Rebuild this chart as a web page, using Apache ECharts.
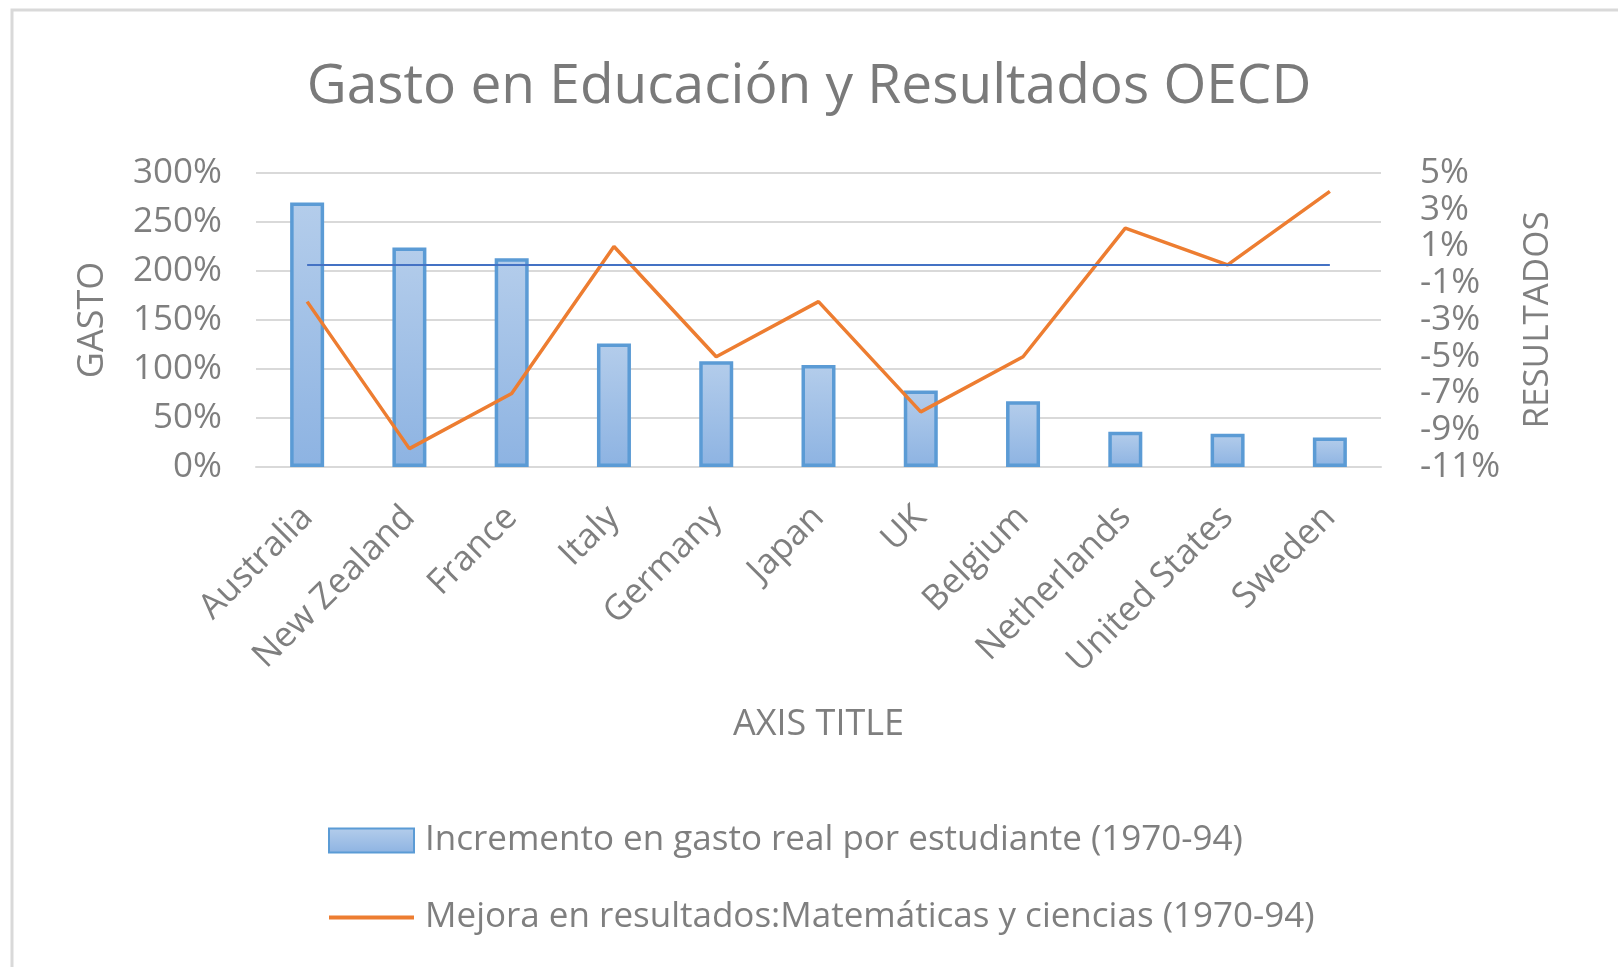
<!DOCTYPE html>
<html>
<head>
<meta charset="utf-8">
<script src="https://cdn.jsdelivr.net/npm/echarts@6/dist/echarts.min.js"></script>
<style>
  html, body { margin: 0; padding: 0; background: #fff; }
  #chart { width: 1618px; height: 967px; }
</style>
</head>
<body>
<div id="chart"></div>
<script>
const categories = ['Australia', 'New Zealand', 'France', 'Italy', 'Germany', 'Japan', 'UK', 'Belgium', 'Netherlands', 'United States', 'Sweden']
// gasto (left axis, %)
const gastoValues = [270, 224, 213, 126, 108, 104, 78, 67, 36, 34, 30]
// resultados (right axis, %)
const resultadosValues = [-2, -10, -7, 1, -5, -2, -8, -5, 2, 0, 4]
const baselineValue = 0

const gastoName = 'Incremento en gasto real por estudiante (1970-94)'
const resultadosName = 'Mejora en resultados:Matemáticas y ciencias (1970-94)'

const font = '"Open Sans", "Noto Sans", sans-serif'
const grey = '#7f7f7f'

const chart = echarts.init(document.getElementById('chart'))

const option = {
  backgroundColor: '#fff',
  textStyle: { fontFamily: font },
  animation: false,
  graphic: [{
    type: 'rect',
    shape: { x: 12, y: 10, width: 1640, height: 1000 },
    style: { fill: 'none', stroke: '#d9d9d9', lineWidth: 3 },
    silent: true
  }],
  title: {
    text: 'Gasto en Educación y Resultados OECD',
    left: 'center',
    top: 55,
    textStyle: { fontFamily: font, fontSize: 55, fontWeight: 'normal', color: '#7a7a7a' }
  },
  legend: {
    orient: 'vertical',
    left: 322,
    top: 818,
    itemWidth: 85,
    itemHeight: 24,
    itemGap: 42,
    textStyle: { fontFamily: font, fontSize: 35, color: grey, padding: [0, 0, 0, 6] },
    data: [
      { name: gastoName, icon: 'rect' },
      { name: resultadosName, itemStyle: { opacity: 0 }, lineStyle: { width: 4 } }
    ]
  },
  grid: { left: 256, right: 237, top: 173, bottom: 500 },
  xAxis: {
    type: 'category',
    data: categories,
    name: 'AXIS TITLE',
    nameLocation: 'middle',
    nameGap: 240,
    nameTextStyle: { fontFamily: font, fontSize: 36, color: grey },
    axisLine: { show: true, lineStyle: { color: '#d9d9d9', width: 2 } },
    axisTick: { show: false },
    axisLabel: { rotate: 45, margin: 45, fontSize: 35, color: grey, interval: 0 }
  },
  yAxis: [{
    type: 'value',
    min: 0,
    max: 300,
    interval: 50,
    name: 'GASTO',
    nameLocation: 'middle',
    nameRotate: 90,
    nameGap: 145,
    nameTextStyle: { fontFamily: font, fontSize: 36, color: grey },
    axisLine: { show: false },
    axisTick: { show: false },
    axisLabel: { formatter: '{value}%', fontSize: 35, color: grey, margin: 34 },
    splitLine: { lineStyle: { color: '#d9d9d9', width: 2 } }
  }, {
    type: 'value',
    min: -11,
    max: 5,
    interval: 2,
    position: 'right',
    name: 'RESULTADOS',
    nameLocation: 'middle',
    nameRotate: 90,
    nameGap: 140,
    nameTextStyle: { fontFamily: font, fontSize: 35, color: grey },
    axisLine: { show: false },
    axisTick: { show: false },
    axisLabel: { formatter: '{value}%', fontSize: 35, color: grey, margin: 39 },
    splitLine: { show: false }
  }],
  series: [{
    name: gastoName,
    type: 'bar',
    data: gastoValues,
    barWidth: 34,
    itemStyle: {
      color: new echarts.graphic.LinearGradient(0, 0, 0, 1, [
        { offset: 0, color: '#b4cdeb' },
        { offset: 1, color: '#8db3e2' }
      ]),
      borderColor: '#5b9bd5',
      borderWidth: 3.5
    }
  }, {
    name: resultadosName,
    type: 'line',
    yAxisIndex: 1,
    data: resultadosValues,
    symbol: 'none',
    lineStyle: { color: '#ed7d31', width: 3.5 },
    itemStyle: { color: '#ed7d31' },
    z: 3,
    markLine: {
      silent: true,
      symbol: 'none',
      label: { show: false },
      lineStyle: { color: '#4472c4', width: 2, type: 'solid' },
      data: [[
        { coord: [categories[0], baselineValue] },
        { coord: [categories[categories.length - 1], baselineValue] }
      ]]
    }
  }]
}

chart.setOption(option)
</script>
</body>
</html>
